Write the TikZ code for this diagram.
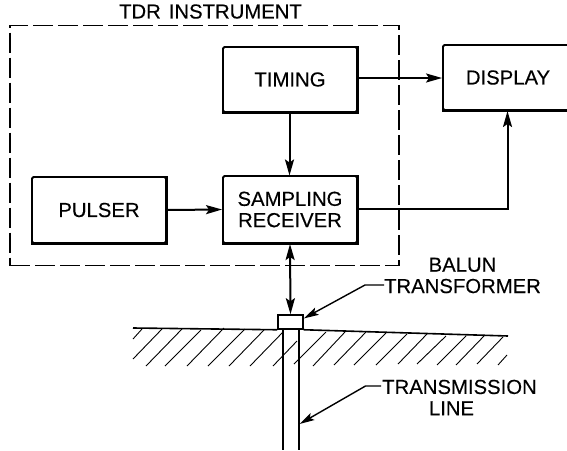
\documentclass[tikz,border=0pt]{standalone}
\usepackage{fontspec}
\setmainfont{Liberation Sans}[FakeBold=0.25]
\usepackage{tikz}
\usetikzlibrary{arrows.meta}

\begin{document}
\begin{tikzpicture}[x=1pt, y=-1pt,
    every node/.style={font=\fontsize{20.3}{21.3}\selectfont, align=center, inner sep=0pt},
    block/.style={draw, line width=1.9pt, rounded corners=1.5pt, minimum width=134pt, minimum height=65pt},
    flow/.style={line width=2pt, -{Stealth[length=16pt, width=9pt, inset=3pt]}},
    leader/.style={line width=1.4pt, -{Stealth[length=15pt, width=8pt, inset=3pt]}},
    hatch/.style={line width=0.9pt}]
  \useasboundingbox (0,0) rectangle (567,450);

  % Instrument outline
  \node[draw, dash pattern=on 20pt off 5pt, line width=1.1pt, minimum width=389pt, minimum height=240pt] (instrument) at (204.5,145.5) {};
  \node (title) at (210.5,11.5) {TDR\hspace{8pt}INSTRUMENT};

  % Blocks
  \node[block] (timing) at (290,79.5) {TIMING};
  \node[block, minimum width=130pt] (display) at (508,77.5) {DISPLAY};
  \node[block, minimum height=66pt] (pulser) at (99,210) {PULSER};
  \node[block, minimum height=67pt] (receiver) at (290,209.5) {SAMPLING\\RECEIVER};
  \foreach \b in {timing, display, pulser, receiver}
    \draw[line width=3pt] (\b.south west) -- (\b.south east) -- (\b.north east);

  \coordinate (displayin) at (507.5,111);
  \coordinate (timingout) at (289.5,113);
  \coordinate (receiverin) at (289.5,175.5);
  \coordinate (receiverport) at (290,244);
  \coordinate (receiverout) at (358,209);

  \draw[flow] (timing.east |- 0,78) -- (display.west |- 0,78);
  \draw[flow] (timingout) -- (receiverin);
  \draw[flow] (pulser.east) -- (receiver.west);
  \draw[flow] (receiverout) -| (displayin);

  % Ground
  \node[draw, line width=1.5pt, minimum width=25pt, minimum height=14pt] (balun) at (290.5,322) {};
  \draw[flow, {Stealth[length=16pt, width=9pt, inset=3pt]}-{Stealth[length=16pt, width=9pt, inset=3pt]}] (receiverport) -- (balun.north);

  \coordinate (groundleft) at (133,328);
  \coordinate (groundright) at (508,336);
  \draw[line width=1.6pt] (groundleft) -- (balun.south west) (balun.south east) -- (groundright);
  \draw[line width=1.6pt] (282.7,329) -- (282.7,450) (298.7,329) -- (298.7,450);

  \foreach \xa/\ya/\xb/\yb in {142/329/133/339, 162/329/133/359, 182/329/146/366, 201/330/165/366,
      224/328/187/366, 245/329/208/366, 264/330/229/366, 283/332/250/366, 297/341/273/366,
      326/332/294/364, 345/332/313/366, 366/332/334/365, 386/333/354/365, 407/334/376/365,
      427/334/398/364, 446/336/417/364, 466/336/437/365, 484/336/456/365, 503/337/477/364, 507/355/498/365}
    \draw[hatch] (\xa,\ya) -- (\xb,\yb);

  % Labels
  \node (balunlabel) at (462.5,275.5) {BALUN\\TRANSFORMER};
  \node (linelabel) at (459.5,397.5) {TRANSMISSION\\LINE\kern16pt};
  \coordinate (balunlead) at (384,285);
  \coordinate (linelead) at (381,386);
  \coordinate (linetarget) at (299.5,424);
  \draw[leader] (balunlead) -- (365,285) -- (balun.15);
  \draw[leader] (linelead) -- (365.5,386) -- (linetarget);
\end{tikzpicture}
\end{document}
